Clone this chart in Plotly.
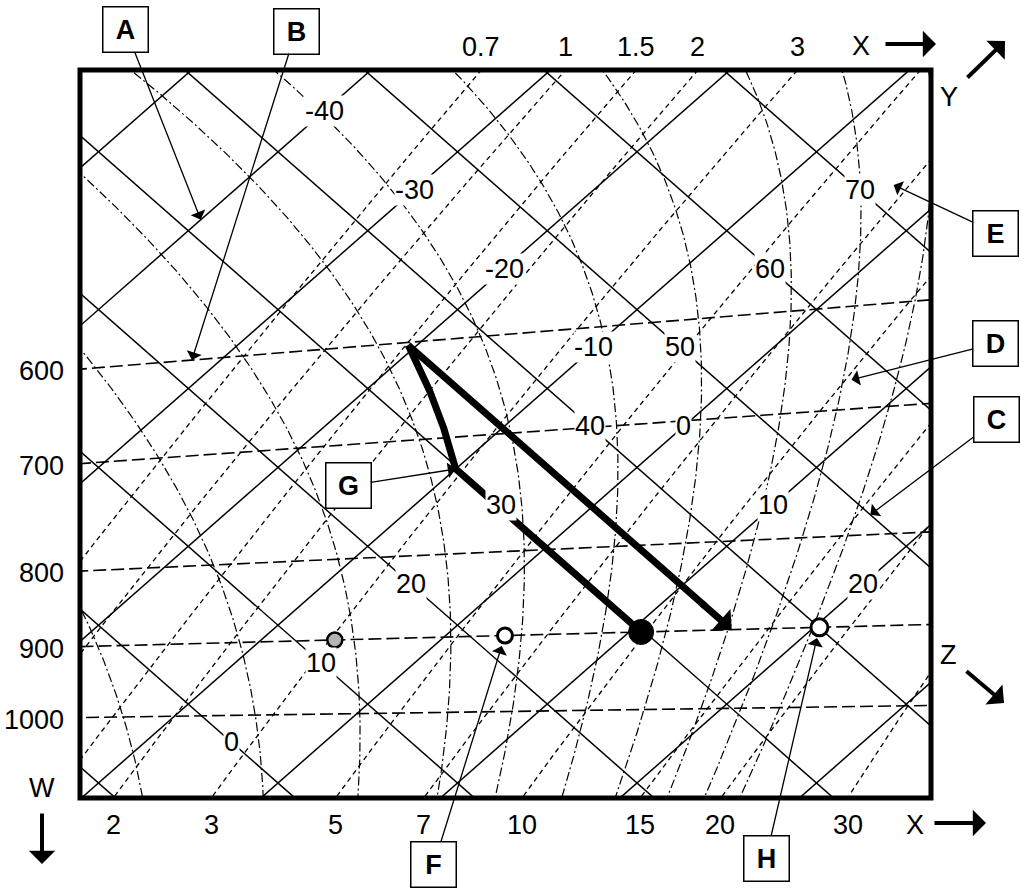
import numpy as np
import plotly.graph_objects as go

# ---------------- values ----------------
isotherm_T = [-50, -40, -30, -20, -10, 0, 10, 20, 30]            # degC
adiabat_theta = [-10, 0, 10, 20, 30, 40, 50, 60, 70]             # degC
isotherm_label_values = [-40, -30, -20, -10, 0, 10, 20]
adiabat_label_values = [0, 10, 20, 30, 40, 50, 60, 70]
isotherm_label_theta = 45.2      # isotherm labels sit on this adiabat
adiabat_label_T = -5.2           # adiabat labels sit on this isotherm

isobar_p = [600, 700, 800, 900, 1000]                    # hPa
isobar_theta_Tm20 = [35.98, 22.45, 7.35, -2.73, -11.86]  # theta where isobar meets T=-20
isobar_theta_Tp20 = [84.16, 69.47, 51.78, 39.71, 29.45]  # theta where isobar meets T=+20

mr_w = [0.7, 1, 1.5, 2, 3, 5, 7, 10, 15, 20, 30]                       # g/kg
mr_T1000 = [-21.9, -17.9, -13.4, -10.0, -4.6, 2.3, 7.2, 12.6, 19.2, 23.65, 30.2]
mr_T800 = [-24.88, -20.9, -16.51, -13.17, -7.86, -1.02, 3.83, 9.12, 15.7, 20.08, 25.9]
mr_T600 = [-28.96, -24.85, -20.68, -17.38, -12.1, -5.35, -0.58, 4.67, 11.18, 15.5, 21.0]
mr_top_labels = [0.7, 1, 1.5, 2, 3]
mr_bottom_labels = [2, 3, 5, 7, 10, 15, 20, 30]

sa_T1000 = [-12.4, -5.2, 0.5, 5.3, 8.8, 12.8, 16.0, 19.1, 21.3, 23.4]  # saturated adiabats

parcel_p = 900
parcel_theta = 29.8    # filled dot sits on this adiabat
dewpoint_T = 3.3       # F
gray_T = -5.9          # grey dot
final_T = 20.3         # H
lcl_T = -10.0          # G
top_T = -20.5          # end of the saturated ascent
top_theta = 35.0

ptr_A = (-40.0, 31.4)  # (T, theta)
ptr_B_T = -31.6        # on the 600 hPa isobar
ptr_C = (16.0, 50.0)
ptr_D = (6.4, 57.5)
ptr_E = (-3.6, 72.2)

# ---------------- layout geometry ----------------
W, H = 1021, 888
ML, MRG, MT, MB = 80, 90, 70, 90
PW, PH = W - ML - MRG, H - MT - MB
U_RANGE = [-22.06, 72.76]   # u = T + theta
V_RANGE = [-1.90, 90.37]    # v = theta - T
FONT = "Arial, Liberation Sans, sans-serif"
FS = 27


def uv(T, th):
    T = np.asarray(T, float)
    th = np.asarray(th, float)
    return T + th, th - T


def to_px(u, v):
    x = ML + (u - U_RANGE[0]) / (U_RANGE[1] - U_RANGE[0]) * PW
    y = MT + (V_RANGE[1] - v) / (V_RANGE[1] - V_RANGE[0]) * PH
    return x, y


def px_to_paper(x, y):
    return (x - ML) / PW, (MT + PH - y) / PH


# drawn isobars: theta = A + B*T
A_iso = (np.array(isobar_theta_Tm20) + np.array(isobar_theta_Tp20)) / 2
B_iso = (np.array(isobar_theta_Tp20) - np.array(isobar_theta_Tm20)) / 40
X_iso = np.log(1000.0 / np.array(isobar_p, float))
A_fit = np.polyfit(X_iso, A_iso, 1)
B_fit = np.polyfit(X_iso, B_iso, 1)


def theta_drawn(T, p):
    i = isobar_p.index(p)
    return A_iso[i] + B_iso[i] * np.asarray(T, float)


def theta_smooth(T, p):
    x = np.log(1000.0 / np.asarray(p, float))
    return np.polyval(A_fit, x) + np.polyval(B_fit, x) * np.asarray(T, float)


def T_on_isobar(theta, p):
    i = isobar_p.index(p)
    return (theta - A_iso[i]) / B_iso[i]


def dTdlnp(Tc, p):
    T = Tc + 273.15
    es = 6.112 * np.exp(17.67 * Tc / (Tc + 243.5))
    rs = 0.622 * es / (p - es)
    Lv, Rd, cp = 2.501e6, 287.04, 1005.7
    return (Rd * T + Lv * rs) / (cp + Lv * Lv * rs * 0.622 / (Rd * T * T))


def moist_path(T0, p0, p1, n=300):
    lnp = np.linspace(np.log(p0), np.log(p1), n + 1)
    T = np.empty(n + 1)
    T[0] = T0
    for i in range(n):
        h = lnp[i + 1] - lnp[i]
        p, pm, pn = np.exp(lnp[i]), np.exp(lnp[i] + h / 2), np.exp(lnp[i + 1])
        k1 = dTdlnp(T[i], p)
        k2 = dTdlnp(T[i] + h * k1 / 2, pm)
        k3 = dTdlnp(T[i] + h * k2 / 2, pm)
        k4 = dTdlnp(T[i] + h * k3, pn)
        T[i + 1] = T[i] + h * (k1 + 2 * k2 + 2 * k3 + k4) / 6
    return np.exp(lnp), T


fig = go.Figure()


def add_line(u, v, dash="solid", width=1.5):
    fig.add_trace(go.Scatter(x=u, y=v, mode="lines", hoverinfo="skip", showlegend=False,
                             line=dict(color="black", width=width, dash=dash)))


# saturated adiabats (dash-dot)
for t0 in sa_T1000:
    pu, Tu = moist_path(t0, 1000, 280)
    pd, Td = moist_path(t0, 1000, 1300)
    p = np.concatenate([pd[::-1], pu[1:]])
    T = np.concatenate([Td[::-1], Tu[1:]])
    u, v = uv(T, theta_smooth(T, p))
    add_line(u, v, dash="9px,3px,2px,3px", width=1.2)

# mixing-ratio lines (short dashes): smooth curve through the three readings
mr_curves = []
vgrid = np.linspace(V_RANGE[0] - 8, V_RANGE[1] + 8, 200)
for w, a, b, c in zip(mr_w, mr_T1000, mr_T800, mr_T600):
    pts = [uv(t, theta_drawn(t, p)) for t, p in ((a, 1000), (b, 800), (c, 600))]
    coef = np.polyfit([q[1] for q in pts], [q[0] for q in pts], 2)
    u = np.polyval(coef, vgrid)
    mr_curves.append((w, u, vgrid))
    add_line(u, vgrid, dash="5px,4px", width=1.3)

# isobars (long dashes)
Tline = np.array([-150.0, 150.0])
for p in isobar_p:
    u, v = uv(Tline, theta_drawn(Tline, p))
    add_line(u, v, dash="13px,5px", width=1.6)

# isotherms and dry adiabats (solid)
for T in isotherm_T:
    u, v = uv([T, T], [-150, 200])
    add_line(u, v, width=1.5)
for th in adiabat_theta:
    u, v = uv([-150, 150], [th, th])
    add_line(u, v, width=1.5)

# ---------------- parcel process (thick line) ----------------
parcel_T = T_on_isobar(parcel_theta, parcel_p)
lo, hi = np.log(300.0), np.log(1000.0)
for _ in range(60):
    mid = (lo + hi) / 2
    if theta_smooth(lcl_T, np.exp(mid)) > parcel_theta:
        lo = mid
    else:
        hi = mid
p_lcl = np.exp((lo + hi) / 2)
u1, v1 = uv([parcel_T, lcl_T], [parcel_theta, parcel_theta])
add_line(u1, v1, width=7)

# saturated ascent from G, following the moist-adiabat shape up to the turning point
pm_, Tm_ = moist_path(lcl_T, p_lcl, 450, n=600)
k = int(np.argmax(Tm_ <= top_T))
Tm_seg = np.append(Tm_[:k], top_T)
th_raw = theta_smooth(Tm_seg, np.append(pm_[:k], pm_[k]))
th_raw[0] = parcel_theta
corr = (top_theta - th_raw[-1]) * (lcl_T - Tm_seg) / (lcl_T - top_T)
u2, v2 = uv(Tm_seg, th_raw + corr)
add_line(u2, v2, width=7)

T_end = T_on_isobar(top_theta, parcel_p)
T_back = T_end - 3.0
u3, v3 = uv([top_T, T_back], [top_theta, top_theta])
add_line(u3, v3, width=7)


# points at the parcel level
def pt(T):
    return uv(T, theta_drawn(T, parcel_p))


for T, size, fill, lw in [(gray_T, 15, "#b4b4b4", 2.5), (dewpoint_T, 15, "white", 3),
                          (parcel_T, 25, "black", 1), (final_T, 17, "white", 3)]:
    u, v = pt(T)
    fig.add_trace(go.Scatter(x=[float(u)], y=[float(v)], mode="markers", hoverinfo="skip",
                             showlegend=False,
                             marker=dict(size=size, color=fill, line=dict(color="black", width=lw))))

ann = []
ue, ve = uv(T_end, top_theta)
ub, vb = uv(T_back - 0.5, top_theta)
ann.append(dict(x=float(ue), y=float(ve), ax=float(ub), ay=float(vb), axref="x", ayref="y",
                xref="x", yref="y", text="", showarrow=True, arrowhead=1, arrowwidth=7,
                arrowsize=0.7, arrowcolor="black", standoff=0))

for T in isotherm_label_values:
    u, v = uv(T, isotherm_label_theta)
    ann.append(dict(x=float(u), y=float(v), xref="x", yref="y", text=f"{T}", showarrow=False,
                    bgcolor="white", borderpad=0, font=dict(size=FS, family=FONT, color="black")))
for th in adiabat_label_values:
    u, v = uv(adiabat_label_T, th)
    ann.append(dict(x=float(u), y=float(v), xref="x", yref="y", text=f"{th}", showarrow=False,
                    bgcolor="white", borderpad=0, font=dict(size=FS, family=FONT, color="black")))

for i, p in enumerate(isobar_p):
    T = (U_RANGE[0] - A_iso[i]) / (1 + B_iso[i])
    v = A_iso[i] + T * (B_iso[i] - 1)
    ann.append(dict(x=0, y=float(v), xref="paper", yref="y", xanchor="right", yanchor="middle",
                    xshift=-14, yshift=-2, text=str(p), showarrow=False,
                    font=dict(size=FS, family=FONT, color="black")))


def crossing(u, v, level):
    s = v - level
    for i in range(len(s) - 1):
        if s[i] * s[i + 1] <= 0 and s[i] != s[i + 1]:
            f = s[i] / (s[i] - s[i + 1])
            return u[i] + f * (u[i + 1] - u[i])
    return None


for w, u, v in mr_curves:
    for labels, level, yp, ysh in [(mr_top_labels, V_RANGE[1], 1, 23),
                                   (mr_bottom_labels, V_RANGE[0], 0, -27)]:
        if w in labels:
            uc = crossing(u, v, level)
            if uc is not None:
                ann.append(dict(x=float(uc), y=yp, xref="x", yref="paper", xanchor="center",
                                yanchor="middle", yshift=ysh, text=f"{w:g}", showarrow=False,
                                font=dict(size=FS, family=FONT, color="black")))

for txt, (x, y) in [("X", (861, 46)), ("Y", (949, 97)), ("Z", (948, 655)), ("W", (42, 788)),
                    ("X", (915, 825))]:
    xp, yp = px_to_paper(x, y)
    ann.append(dict(x=xp, y=yp, xref="paper", yref="paper", xanchor="center", yanchor="middle",
                    text=txt, showarrow=False, font=dict(size=FS, family=FONT, color="black")))
for (tx, ty), (hx, hy) in [((884, 44), (936, 44)), ((966, 79), (1005, 41)),
                           ((965, 670), (1004, 703)), ((42, 812), (42, 864)),
                           ((933, 823), (986, 823))]:
    xp, yp = px_to_paper(hx, hy)
    ann.append(dict(x=xp, y=yp, xref="paper", yref="paper", ax=tx - hx, ay=ty - hy,
                    axref="pixel", ayref="pixel", text="", showarrow=True, arrowhead=1,
                    arrowwidth=4, arrowsize=1.1, arrowcolor="black", standoff=0))

u_lcl, v_lcl = uv(lcl_T, parcel_theta)
ptr_B_th = float(theta_drawn(ptr_B_T, 600))
targets = {
    "A": (uv(*ptr_A), (126, 30), 0),
    "B": (uv(ptr_B_T, ptr_B_th), (296, 31), 0),
    "C": (uv(*ptr_C), (996, 420), 0),
    "D": (uv(*ptr_D), (996, 343), 0),
    "E": (uv(*ptr_E), (996, 233), 0),
    "F": (pt(dewpoint_T), (434, 864), 11),
    "G": ((u_lcl, v_lcl), (348, 486), 0),
    "H": (pt(final_T), (766, 858), 11),
}
for letter, ((tu, tv), (bx, by), so) in targets.items():
    tx, ty = to_px(float(tu), float(tv))
    ann.append(dict(x=float(tu), y=float(tv), xref="x", yref="y", ax=bx - tx, ay=by - ty,
                    axref="pixel", ayref="pixel", text=f"<b>{letter}</b>", showarrow=True,
                    arrowhead=1, arrowwidth=1.3, arrowsize=2, arrowcolor="black", standoff=so,
                    bgcolor="white", bordercolor="black", borderwidth=1.5, borderpad=1,
                    width=42, height=42, align="center", valign="middle",
                    font=dict(size=27, family=FONT, color="black")))

fig.update_layout(
    width=W, height=H, margin=dict(l=ML, r=MRG, t=MT, b=MB, pad=0),
    plot_bgcolor="white", paper_bgcolor="white",
    xaxis=dict(range=U_RANGE, visible=False, fixedrange=True),
    yaxis=dict(range=V_RANGE, visible=False, fixedrange=True),
    annotations=ann,
    shapes=[dict(type="rect", xref="paper", yref="paper", x0=0, y0=0, x1=1, y1=1,
                 line=dict(color="black", width=5))],
    showlegend=False,
)
fig.write_html("out.html", post_script="document.body.style.margin='0px';",
               config={"displayModeBar": False})
